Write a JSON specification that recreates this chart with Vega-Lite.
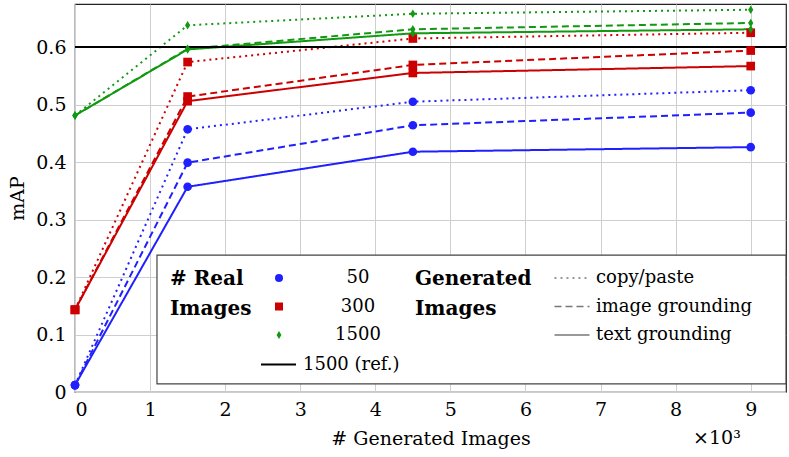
{
  "$schema": "https://vega.github.io/schema/vega-lite/v6.json",
  "width": 711,
  "height": 388,
  "autosize": {"type": "none"},
  "padding": {"left": 75, "top": 4, "right": 3, "bottom": 65},
  "background": "white",
  "datasets": {
    "runs": [
      {"gen": 0, "mAP": 0.012, "real": "50", "method": "copy/paste"},
      {"gen": 1.5, "mAP": 0.457, "real": "50", "method": "copy/paste"},
      {"gen": 4.5, "mAP": 0.505, "real": "50", "method": "copy/paste"},
      {"gen": 9, "mAP": 0.525, "real": "50", "method": "copy/paste"},
      {"gen": 0, "mAP": 0.012, "real": "50", "method": "image grounding"},
      {"gen": 1.5, "mAP": 0.399, "real": "50", "method": "image grounding"},
      {"gen": 4.5, "mAP": 0.464, "real": "50", "method": "image grounding"},
      {"gen": 9, "mAP": 0.486, "real": "50", "method": "image grounding"},
      {"gen": 0, "mAP": 0.012, "real": "50", "method": "text grounding"},
      {"gen": 1.5, "mAP": 0.357, "real": "50", "method": "text grounding"},
      {"gen": 4.5, "mAP": 0.418, "real": "50", "method": "text grounding"},
      {"gen": 9, "mAP": 0.426, "real": "50", "method": "text grounding"},
      {"gen": 0, "mAP": 0.143, "real": "300", "method": "copy/paste"},
      {"gen": 1.5, "mAP": 0.574, "real": "300", "method": "copy/paste"},
      {"gen": 4.5, "mAP": 0.615, "real": "300", "method": "copy/paste"},
      {"gen": 9, "mAP": 0.625, "real": "300", "method": "copy/paste"},
      {"gen": 0, "mAP": 0.143, "real": "300", "method": "image grounding"},
      {"gen": 1.5, "mAP": 0.514, "real": "300", "method": "image grounding"},
      {"gen": 4.5, "mAP": 0.569, "real": "300", "method": "image grounding"},
      {"gen": 9, "mAP": 0.594, "real": "300", "method": "image grounding"},
      {"gen": 0, "mAP": 0.143, "real": "300", "method": "text grounding"},
      {"gen": 1.5, "mAP": 0.506, "real": "300", "method": "text grounding"},
      {"gen": 4.5, "mAP": 0.555, "real": "300", "method": "text grounding"},
      {"gen": 9, "mAP": 0.567, "real": "300", "method": "text grounding"},
      {"gen": 0, "mAP": 0.481, "real": "1500", "method": "copy/paste"},
      {"gen": 1.5, "mAP": 0.638, "real": "1500", "method": "copy/paste"},
      {"gen": 4.5, "mAP": 0.658, "real": "1500", "method": "copy/paste"},
      {"gen": 9, "mAP": 0.665, "real": "1500", "method": "copy/paste"},
      {"gen": 0, "mAP": 0.481, "real": "1500", "method": "image grounding"},
      {"gen": 1.5, "mAP": 0.597, "real": "1500", "method": "image grounding"},
      {"gen": 4.5, "mAP": 0.631, "real": "1500", "method": "image grounding"},
      {"gen": 9, "mAP": 0.642, "real": "1500", "method": "image grounding"},
      {"gen": 0, "mAP": 0.481, "real": "1500", "method": "text grounding"},
      {"gen": 1.5, "mAP": 0.596, "real": "1500", "method": "text grounding"},
      {"gen": 4.5, "mAP": 0.624, "real": "1500", "method": "text grounding"},
      {"gen": 9, "mAP": 0.631, "real": "1500", "method": "text grounding"}
    ],
    "reference": [
      {"ref": "1500 (ref.)", "mAP": 0.6}
    ]
  },
  "layer": [
    {
      "data": {"name": "runs"},
      "mark": {"type": "line", "strokeWidth": 2},
      "encoding": {
        "x": {
          "field": "gen",
          "type": "quantitative",
          "title": "# Generated Images",
          "scale": {"domain": [0, 9.47], "nice": false, "zero": false},
          "axis": {
            "values": [0, 0.5, 1, 1.5, 2, 2.5, 3, 3.5, 4, 4.5, 5, 5.5, 6, 6.5, 7, 7.5, 8, 8.5, 9],
            "labelExpr": "datum.value % 1 == 0 ? datum.value : ''",
            "labelPadding": 8,
            "titlePadding": 10
          }
        },
        "y": {
          "field": "mAP",
          "type": "quantitative",
          "title": "mAP",
          "scale": {"domain": [0, 0.675], "nice": false},
          "axis": {
            "values": [0, 0.025, 0.05, 0.075, 0.1, 0.125, 0.15, 0.175, 0.2, 0.225, 0.25, 0.275, 0.3, 0.325, 0.35, 0.375, 0.4, 0.425, 0.45, 0.475, 0.5, 0.525, 0.55, 0.575, 0.6, 0.625, 0.65],
            "labelExpr": "abs(datum.value * 10 - round(datum.value * 10)) < 0.001 ? (datum.value == 0 ? '0' : format(datum.value, '.1f')) : ''",
            "labelPadding": 9,
            "titlePadding": 8
          }
        },
        "stroke": {
          "field": "real",
          "type": "nominal",
          "sort": ["50", "300", "1500"],
          "scale": {"domain": ["50", "300", "1500"], "range": ["#2020ff", "#cc0000", "#119911"]}
        },
        "strokeDash": {
          "field": "method",
          "type": "nominal",
          "scale": {
            "domain": ["copy/paste", "image grounding", "text grounding"],
            "range": [[2, 4], [7, 4], [1, 0]]
          },
          "legend": {
            "title": ["Generated", "Images"],
            "orient": "none",
            "legendX": 340,
            "legendY": 265,
            "titleOrient": "left",
            "titleAnchor": "start",
            "titlePadding": 31,
            "symbolType": "M-3,0H3",
            "symbolSize": 136,
            "symbolFillColor": "transparent",
            "symbolStrokeColor": "#777",
            "symbolStrokeWidth": 1.5,
            "labelOffset": 15,
            "labelLimit": 400,
            "rowPadding": 10.5,
            "padding": 0
          }
        },
        "detail": {"field": "method"}
      }
    },
    {
      "data": {"values": [{}]},
      "mark": {"type": "rect", "fill": "white", "stroke": "#444", "strokeWidth": 1.2, "clip": false},
      "encoding": {
        "x": {"datum": 1.092, "type": "quantitative"},
        "x2": {"datum": 9.47},
        "y": {"datum": 0.238, "type": "quantitative"},
        "y2": {"datum": 0.014}
      }
    },
    {
      "data": {"values": [{}]},
      "mark": {"type": "text", "text": "×10³", "fontSize": 19, "align": "center", "baseline": "middle", "clip": false},
      "encoding": {
        "x": {"datum": 8.55, "type": "quantitative"},
        "y": {"datum": -0.08, "type": "quantitative"}
      }
    },
    {
      "data": {"name": "reference"},
      "mark": {"type": "rule", "strokeWidth": 2},
      "encoding": {
        "y": {"field": "mAP", "type": "quantitative"},
        "color": {
          "field": "ref",
          "type": "nominal",
          "scale": {"range": ["black"]},
          "legend": {
            "title": null,
            "orient": "none",
            "legendX": 185,
            "legendY": 342,
            "symbolType": "stroke",
            "symbolSize": 1225,
            "symbolStrokeWidth": 2,
            "labelOffset": 6,
            "padding": 0
          }
        }
      }
    },
    {
      "data": {"name": "runs"},
      "mark": {"type": "point", "filled": true, "opacity": 1},
      "encoding": {
        "x": {"field": "gen", "type": "quantitative"},
        "y": {"field": "mAP", "type": "quantitative"},
        "fill": {
          "field": "real",
          "type": "nominal",
          "sort": ["50", "300", "1500"],
          "scale": {"domain": ["50", "300", "1500"], "range": ["#2020ff", "#cc0000", "#119911"]},
          "legend": {
            "title": ["# Real", "Images"],
            "orient": "none",
            "legendX": 95,
            "legendY": 265,
            "titleOrient": "left",
            "titleAnchor": "start",
            "titlePadding": 18,
            "symbolSize": 64,
            "symbolStrokeWidth": 0,
            "labelAlign": "center",
            "labelOffset": 70,
            "rowPadding": 10.5,
            "padding": 0
          }
        },
        "shape": {
          "field": "real",
          "type": "nominal",
          "sort": ["50", "300", "1500"],
          "scale": {"domain": ["50", "300", "1500"], "range": ["circle", "square", "M0,-1L0.6,0L0,1L-0.6,0Z"]}
        },
        "size": {"value": 75}
      }
    }
  ],
  "config": {
    "font": "DejaVu Serif",
    "view": {"stroke": "#222", "strokeWidth": 1.2},
    "axis": {
      "domain": false,
      "ticks": false,
      "grid": true,
      "gridColor": "#cfcfcf",
      "gridWidth": 1,
      "gridOpacity": 1,
      "labelFont": "DejaVu Serif",
      "labelFontSize": 19,
      "labelColor": "black",
      "titleFont": "DejaVu Serif",
      "titleFontSize": 19,
      "titleFontWeight": "normal",
      "titleColor": "black"
    },
    "legend": {
      "labelFont": "DejaVu Serif",
      "labelFontSize": 18,
      "labelColor": "black",
      "titleFont": "DejaVu Serif",
      "titleFontSize": 20,
      "titleFontWeight": "bold",
      "titleColor": "black",
      "titleLineHeight": 30
    }
  }
}
